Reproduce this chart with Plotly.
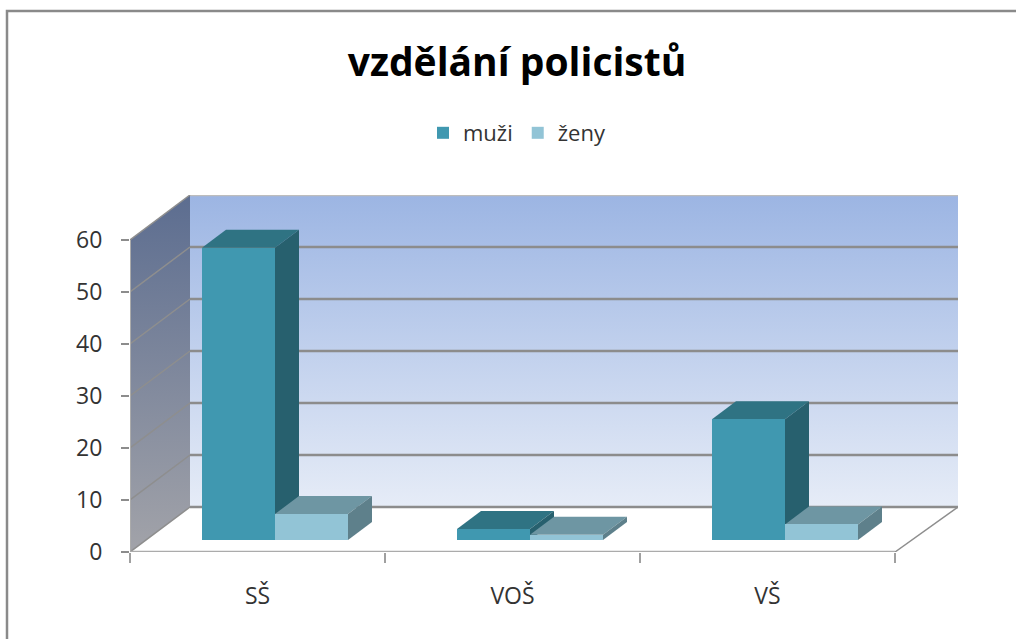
import plotly.graph_objects as go

categories = ["SŠ", "VOŠ", "VŠ"]
muzi = [56.2, 2.1, 23.2]
zeny = [5, 1, 3]
y_ticks = [0, 10, 20, 30, 40, 50, 60]

W, H = 1016, 639
L, R, T, B = 130, 958, 195, 552
PX = 255.0   # px per category
PY = 5.2     # px per unit
XMAX = (R - L) / PX
YMAX = (B - T) / PY
WDX, WDY = 60 / PX, 45 / PY        # wall depth
BOX, BOY = 17.5 / PX, 12 / PY      # bar front offset
BDX, BDY = 24 / PX, 18 / PY        # bar depth
BW = 73 / PX
n = len(categories)
FONT = "Open Sans"

fig = go.Figure()
base = dict(xaxis="x", yaxis="y", showlegend=False, hoverinfo="skip", cliponaxis=False)
top = dict(xaxis="x2", yaxis="y2", showlegend=False, hoverinfo="skip")

def poly(xs, ys, **kw):
    fig.add_trace(go.Scatter(x=xs, y=ys, mode="lines", fill="toself", line=dict(width=0), **kw))

# walls
poly([WDX, XMAX, XMAX, WDX, WDX], [WDY, WDY, 60 + WDY, 60 + WDY, WDY],
     fillgradient=dict(type="vertical", colorscale=[[0, "#E6ECF7"], [1, "#9CB5E3"]]), **base)
poly([0, WDX, WDX, 0, 0], [0, WDY, 60 + WDY, 60, 0],
     fillgradient=dict(type="vertical", colorscale=[[0, "#A2A3A9"], [1, "#5C6D90"]]), **base)

# gridlines
for v in y_ticks:
    c = "#BDBDBD" if v == 60 else "#8C8C8C"
    fig.add_trace(go.Scatter(x=[WDX, XMAX], y=[v + WDY, v + WDY], mode="lines",
                             line=dict(color=c, width=2.5), **base))
    fig.add_trace(go.Scatter(x=[0, WDX], y=[v, v + WDY], mode="lines",
                             line=dict(color="#8E8E8E", width=1.5), **base))
# floor edges and axes
fig.add_trace(go.Scatter(x=[n, XMAX], y=[0, WDY], mode="lines", line=dict(color="#8E8E8E", width=1.5), **base))
fig.add_trace(go.Scatter(x=[0, n], y=[0, 0], mode="lines", line=dict(color="#ABABAB", width=2.5), **base))
fig.add_trace(go.Scatter(x=[0, 0], y=[0, 60], mode="lines", line=dict(color="#ABABAB", width=2), **base))

series = [("muži", muzi, "#4098B0", "#2F7383", "#27606E", 0),
          ("ženy", zeny, "#92C4D6", "#6E96A3", "#5E808B", 1)]
# 3D faces
for name, vals, front, topc, side, k in series:
    for i in range(n):
        x0 = i + 0.5 + BOX + (k - 1) * BW
        x1 = x0 + BW
        y0 = BOY
        y1 = BOY + vals[i]
        poly([x0, x1, x1 + BDX, x0 + BDX, x0], [y1, y1, y1 + BDY, y1 + BDY, y1], fillcolor=topc, **top)
        poly([x1, x1 + BDX, x1 + BDX, x1, x1], [y0, y0 + BDY, y1 + BDY, y1, y0], fillcolor=side, **top)
# bars (front faces), on the uppermost overlay
for name, vals, front, topc, side, k in series:
    xs = [i + 0.5 + BOX + (k - 1) * BW for i in range(n)]
    fig.add_trace(go.Bar(x=xs, y=vals, base=[BOY] * n, width=[BW] * n, offset=[0] * n,
                         name=name, marker=dict(color=front, line=dict(width=0)),
                         xaxis="x3", yaxis="y3", hoverinfo="skip"))

fig.update_layout(
    width=W, height=H, autosize=False,
    margin=dict(l=L, r=W - R, t=T, b=H - B),
    paper_bgcolor="white", plot_bgcolor="rgba(0,0,0,0)",
    font=dict(family=FONT, color="#333333"),
    barmode="overlay", bargap=0,
    title=dict(text="<b>vzdělání policistů</b>", x=517 / W, xanchor="center", y=1 - 62 / H, yanchor="middle",
               font=dict(family=FONT, size=39, color="#000000")),
    legend=dict(orientation="h", x=(517 - L) / (R - L), xanchor="center",
                y=(B - 133) / (B - T), yanchor="middle",
                font=dict(size=22, family=FONT, color="#333333"), itemclick=False, itemdoubleclick=False,
                traceorder="normal", bgcolor="rgba(0,0,0,0)"),
    xaxis=dict(range=[0, XMAX], domain=[0, 1], showgrid=False, zeroline=False, showline=False,
               tickmode="array", tickvals=list(range(n + 1)), ticktext=[""] * (n + 1),
               ticks="outside", ticklen=10, tickwidth=2, tickcolor="#A0A0A0"),
    yaxis=dict(range=[0, YMAX], domain=[0, 1], showgrid=False, zeroline=False, showline=False,
               tickmode="array", tickvals=y_ticks, ticks="outside", ticklen=8, tickwidth=2, tickcolor="#8C8C8C",
               ticklabelstandoff=14, tickfont=dict(size=23, family=FONT, color="#333333")),
    xaxis2=dict(range=[0, XMAX], overlaying="x", anchor="y2", showgrid=False, zeroline=False, showline=False,
                tickmode="array", tickvals=[i + 0.5 for i in range(n)], ticktext=categories, ticks="",
                ticklabelstandoff=28, tickfont=dict(size=23, family=FONT, color="#333333")),
    yaxis2=dict(range=[0, YMAX], overlaying="y", anchor="x2", showgrid=False, zeroline=False, showline=False,
                showticklabels=False, ticks=""),
    xaxis3=dict(range=[0, XMAX], overlaying="x", anchor="y3", showgrid=False, zeroline=False, showline=False,
                showticklabels=False, ticks=""),
    yaxis3=dict(range=[0, YMAX], overlaying="y", anchor="x3", showgrid=False, zeroline=False, showline=False,
                showticklabels=False, ticks=""),
    shapes=[dict(type="rect", xref="paper", yref="paper",
                 x0=(7 - L) / (R - L), x1=(1030 - L) / (R - L),
                 y0=(B - 660) / (B - T), y1=(B - 11) / (B - T),
                 line=dict(color="#8A8A8A", width=2.5), fillcolor="rgba(0,0,0,0)", layer="below")],
)
fig.write_html("out.html", config=dict(displayModeBar=False),
               post_script="document.body.style.margin='0';document.body.style.overflow='hidden';")
